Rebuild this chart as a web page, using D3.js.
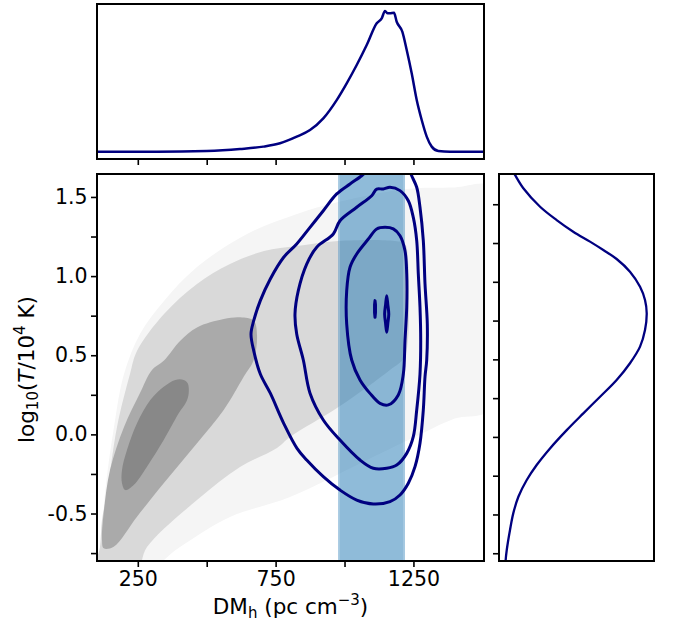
<!DOCTYPE html>
<html><head><meta charset="utf-8">
<script src="https://cdn.jsdelivr.net/npm/d3@7"></script>
<style>body{margin:0;background:#fff}svg{display:block}text{font-family:"DejaVu Sans",sans-serif}</style>
</head><body>
<svg id="c" width="673" height="627"></svg>
<script>
// ---------------- data ----------------
const xTicks = [250, 500, 750, 1000, 1250];
const xTickLabels = ["250", "", "750", "", "1250"];
const yTicks = [-0.75, -0.5, -0.25, 0, 0.25, 0.5, 0.75, 1.0, 1.25, 1.5];
const yTickLabels = ["", "-0.5", "", "0.0", "", "0.5", "", "1.0", "", "1.5"];
const xDomain = [102, 1506];
const yDomain = [-0.8, 1.645];
const margYDomain = [-0.8, 1.695];
const bandDM = [977, 1219];

// marginal DM distribution (top)
const topDM = [102, 318.6, 500, 620.8, 705.3, 765.9, 826.5, 874.8, 923, 971.6, 1007.9, 1044.2, 1080.5, 1116.8, 1134.9, 1146.9, 1156.7, 1165, 1179.5, 1189.3, 1209.6, 1225.6, 1243.7, 1261.9, 1280, 1298.2, 1316.3, 1340.2, 1382.7, 1506];
const topDens = [0, 0, 0.005, 0.019, 0.036, 0.060, 0.107, 0.154, 0.237, 0.367, 0.486, 0.616, 0.758, 0.913, 0.948, 1.0, 0.984, 0.984, 0.988, 0.924, 0.853, 0.723, 0.557, 0.367, 0.225, 0.107, 0.036, 0.005, 0, 0];

// marginal log T distribution (right)
const rightLogT = [1.72, 1.689, 1.603, 1.484, 1.398, 1.323, 1.259, 1.205, 1.147, 1.065, 0.968, 0.883, 0.797, 0.689, 0.582, 0.475, 0.367, 0.259, 0.152, 0.044, -0.074, -0.181, -0.278, -0.386, -0.493, -0.600, -0.729, -0.794, -0.82];
const rightDens = [0.085, 0.103, 0.157, 0.265, 0.372, 0.479, 0.587, 0.673, 0.759, 0.845, 0.910, 0.942, 0.953, 0.942, 0.910, 0.845, 0.759, 0.652, 0.544, 0.437, 0.329, 0.243, 0.179, 0.125, 0.092, 0.071, 0.050, 0.043, 0.042];

// filled grey prior contours [DM, logT]
const greyLevel1 = [[100,-0.86],[112.9,-0.794],[131,-0.370],[163.7,0.047],[200,0.381],[258,0.634],[345.1,0.843],[464.8,1.057],[646.2,1.266],[827.6,1.392],[976.3,1.468],[1226.7,1.550],[1400,1.560],[1530,1.565],[1540,1.0],[1530,0.16],[1400,0.100],[1284.7,0.009],[1103.3,-0.143],[802.2,-0.396],[584.5,-0.522],[403.1,-0.712],[283.4,-0.86]];
const greyLevel2 = [[98,-0.86],[112.9,-0.712],[120.1,-0.541],[138.3,-0.370],[174.6,0.047],[221.7,0.381],[247.1,0.527],[345.1,0.760],[464.8,0.950],[584.5,1.076],[707.9,1.158],[827.6,1.190],[976.3,1.222],[1183.1,1.222],[1219.4,1.203],[1230.3,1.102],[1233.9,0.849],[1230.3,0.596],[1215.8,0.483],[1165,0.407],[983.6,0.179],[802.2,-0.017],[755,-0.086],[620.8,-0.206],[464.8,-0.415],[283.4,-0.712],[245,-0.86]];
const greyLevel3 = [[344,0.465],[404.2,0.592],[464.8,0.676],[561.7,0.729],[621.9,0.740],[670.5,0.718],[682.5,0.628],[670.5,0.470],[634.2,0.364],[561.7,0.154],[464.8,-0.056],[344,-0.309],[247.1,-0.520],[162.6,-0.710],[126.3,-0.720],[120.1,-0.667],[127.4,-0.478],[149.2,-0.225],[200,0.047],[258,0.261],[301.5,0.407]];
const greyLevel4 = [[416.5,0.344],[431.1,0.323],[434.7,0.260],[426,0.206],[398.4,0.133],[344,-0.036],[283.4,-0.204],[235.1,-0.320],[204.7,-0.352],[192.7,-0.309],[192.7,-0.225],[210.8,-0.099],[247.1,0.070],[295.4,0.217],[344,0.301],[386.1,0.344]];

// posterior contour lines [DM, logT]
const contourOuter = [[1081.6,1.664],[1062.3,1.634],[1019.9,1.582],[971.6,1.519],[923,1.413],[874.8,1.308],[826.5,1.203],[779.3,1.119],[730.7,0.982],[694.5,0.845],[670.5,0.718],[660.7,0.634],[670.5,0.529],[694.5,0.381],[730.7,0.260],[779.3,0.070],[827.6,-0.088],[862.8,-0.162],[923,-0.267],[983.6,-0.352],[1044.2,-0.415],[1104.4,-0.440],[1165,-0.425],[1201.3,-0.383],[1231.4,-0.309],[1255.7,-0.204],[1273.8,-0.056],[1285.8,0.154],[1292,0.364],[1298.2,0.470],[1300.3,0.697],[1292,0.950],[1285.8,1.224],[1273.8,1.435],[1261.9,1.561],[1243.7,1.634],[1237.6,1.664]];
const contourMid = [[1116.8,1.550],[1140.7,1.550],[1165,1.561],[1201.3,1.540],[1231.4,1.476],[1249.5,1.371],[1261.9,1.224],[1267.7,1.013],[1273.8,0.803],[1276.4,0.592],[1273.8,0.381],[1261.9,0.154],[1249.5,-0.015],[1225.6,-0.120],[1189.3,-0.194],[1153,-0.214],[1104.4,-0.214],[1056.2,-0.162],[983.6,-0.036],[923,0.091],[874.8,0.260],[850.5,0.470],[826.5,0.634],[820.3,0.760],[832.3,0.908],[862.8,1.076],[899.1,1.182],[959.3,1.266],[983.6,1.350],[1044.2,1.435],[1098.6,1.508]];
const contourInner = [[1146.9,1.308],[1177,1.298],[1201.3,1.255],[1219.4,1.160],[1225.6,1.013],[1225.6,0.803],[1219.4,0.592],[1213.3,0.381],[1195.1,0.249],[1158.8,0.186],[1128.7,0.196],[1092.4,0.259],[1056.2,0.344],[1026,0.470],[1007.9,0.697],[1007.9,0.908],[1019.9,1.056],[1044.2,1.140],[1086.3,1.234],[1116.8,1.298]];
const contourPeakA = [[1110.6,0.845],[1112.3,0.82],[1112.3,0.77],[1110.6,0.74],[1108.9,0.77],[1108.9,0.82]];
const contourPeakB = [[1153,0.876],[1157,0.82],[1160.5,0.76],[1157,0.70],[1153,0.645],[1149,0.70],[1145.5,0.76],[1149,0.82]];

// ---------------- layout ----------------
const M = {x0: 97, x1: 484, y0: 174, y1: 561};
const T = {x0: 97, x1: 484, y0: 4, y1: 159};
const R = {x0: 499, x1: 654, y0: 174, y1: 561};
const navy = "#000080";
const greyColors = ["#f5f5f5", "#d9d9d9", "#aaaaaa", "#888888"];
const FS = 20.5;

const svg = d3.select("#c");
const x = d3.scaleLinear().domain(xDomain).range([M.x0, M.x1]);
const y = d3.scaleLinear().domain(yDomain).range([M.y1, M.y0]);
const yTop = d3.scaleLinear().domain([-0.052, 1.05]).range([T.y1, T.y0]);
const yR = d3.scaleLinear().domain(margYDomain).range([R.y1, R.y0]);
const xR = d3.scaleLinear().domain([0, 1]).range([R.x0, R.x1]);

const defs = svg.append("defs");
function clip(id, b) {
  defs.append("clipPath").attr("id", id).append("rect")
    .attr("x", b.x0).attr("y", b.y0).attr("width", b.x1 - b.x0).attr("height", b.y1 - b.y0);
}
clip("cm", M); clip("ct", T); clip("cr", R);

// ---------- main panel ----------
const gm = svg.append("g").attr("clip-path", "url(#cm)");
const closedSmooth = d3.line().x(d => x(d[0])).y(d => y(d[1])).curve(d3.curveCatmullRomClosed.alpha(0.5));
[greyLevel1, greyLevel2, greyLevel3, greyLevel4].forEach((poly, i) => {
  gm.append("path").attr("d", closedSmooth(poly)).attr("fill", greyColors[i]).attr("stroke", "none");
});
// observed DM band
gm.append("rect")
  .attr("x", x(bandDM[0])).attr("y", M.y0 - 5)
  .attr("width", x(bandDM[1]) - x(bandDM[0])).attr("height", M.y1 - M.y0 + 10)
  .attr("fill", "#1f77b4").attr("fill-opacity", 0.5);
[bandDM[0], bandDM[1]].forEach((v, i) => {
  gm.append("line").attr("x1", x(v) + (i ? -1 : 1)).attr("x2", x(v) + (i ? -1 : 1))
    .attr("y1", M.y0).attr("y2", M.y1).attr("stroke", "#ffffff").attr("stroke-opacity", 0.3).attr("stroke-width", 1);
});
// posterior contours
const openSmooth = d3.line().x(d => x(d[0])).y(d => y(d[1])).curve(d3.curveCatmullRom.alpha(0.5));
gm.append("path").attr("d", openSmooth(contourOuter)).attr("fill", "none").attr("stroke", navy).attr("stroke-width", 3).attr("stroke-linejoin", "round");
[contourMid, contourInner, contourPeakB].forEach(c => {
  gm.append("path").attr("d", closedSmooth(c)).attr("fill", "none").attr("stroke", navy).attr("stroke-width", 3).attr("stroke-linejoin", "round");
});
const closedLin = d3.line().x(d => x(d[0])).y(d => y(d[1])).curve(d3.curveLinearClosed);
gm.append("path").attr("d", closedLin(contourPeakA)).attr("fill", "none").attr("stroke", navy).attr("stroke-width", 3).attr("stroke-linejoin", "round");

// axes main
function styleAxis(g) {
  g.select(".domain").remove();
  g.selectAll(".tick line").attr("stroke", "#000").attr("stroke-width", 1.6);
  g.selectAll(".tick text").attr("fill", "#000").style("font-size", FS + "px").style("font-family", '"DejaVu Sans", sans-serif');
}
svg.append("g").attr("transform", `translate(0,${M.y1})`)
  .call(d3.axisBottom(x).tickValues(xTicks).tickFormat((d, i) => xTickLabels[i]).tickSize(6).tickPadding(4))
  .call(styleAxis);
svg.append("g").attr("transform", `translate(${M.x0},0)`)
  .call(d3.axisLeft(y).tickValues(yTicks).tickFormat((d, i) => yTickLabels[i]).tickSize(6).tickPadding(3.5))
  .call(styleAxis);

// ---------- top panel ----------
const lineTop = d3.line().x((d, i) => x(topDM[i])).y((d, i) => yTop(topDens[i])).curve(d3.curveMonotoneX);
svg.append("g").attr("clip-path", "url(#ct)").append("path")
  .attr("d", lineTop(topDM)).attr("fill", "none").attr("stroke", navy).attr("stroke-width", 2.5).attr("stroke-linejoin", "round");
svg.append("g").attr("transform", `translate(0,${T.y1})`)
  .call(d3.axisBottom(x).tickValues(xTicks).tickFormat("").tickSize(6))
  .call(styleAxis);

// ---------- right panel ----------
const lineR = d3.line().x((d, i) => xR(rightDens[i])).y((d, i) => yR(rightLogT[i])).curve(d3.curveCatmullRom.alpha(0.5));
svg.append("g").attr("clip-path", "url(#cr)").append("path")
  .attr("d", lineR(rightLogT)).attr("fill", "none").attr("stroke", navy).attr("stroke-width", 2.3).attr("stroke-linejoin", "round");
svg.append("g").attr("transform", `translate(${R.x0},0)`)
  .call(d3.axisLeft(yR).tickValues(yTicks).tickFormat("").tickSize(6))
  .call(styleAxis);

// spines
[M, T, R].forEach(b => {
  svg.append("rect").attr("x", b.x0).attr("y", b.y0).attr("width", b.x1 - b.x0).attr("height", b.y1 - b.y0)
    .attr("fill", "none").attr("stroke", "#000").attr("stroke-width", 2);
});

// axis labels
const LFS = 21.5, SFS = 15;
const xl = svg.append("text").attr("x", (M.x0 + M.x1) / 2).attr("y", 614).attr("text-anchor", "middle")
  .style("font-size", LFS + "px").attr("fill", "#000");
xl.append("tspan").text("DM");
xl.append("tspan").attr("dy", 4).style("font-size", SFS + "px").text("h");
xl.append("tspan").attr("dy", -4).text(" (pc cm");
xl.append("tspan").attr("dy", -9).style("font-size", SFS + "px").text("\u22123");
xl.append("tspan").attr("dy", 9).text(")");

const yl = svg.append("text").attr("transform", `translate(34,${(M.y0 + M.y1) / 2 + 2}) rotate(-90)`)
  .attr("text-anchor", "middle").style("font-size", LFS + "px").attr("fill", "#000");
yl.append("tspan").text("log");
yl.append("tspan").attr("dy", 4).style("font-size", SFS + "px").text("10");
yl.append("tspan").attr("dy", -4).text("(");
yl.append("tspan").style("font-style", "italic").text("T");
yl.append("tspan").text("/10");
yl.append("tspan").attr("dy", -9).style("font-size", SFS + "px").text("4");
yl.append("tspan").attr("dy", 9).text(" K)");
</script>
</body></html>
